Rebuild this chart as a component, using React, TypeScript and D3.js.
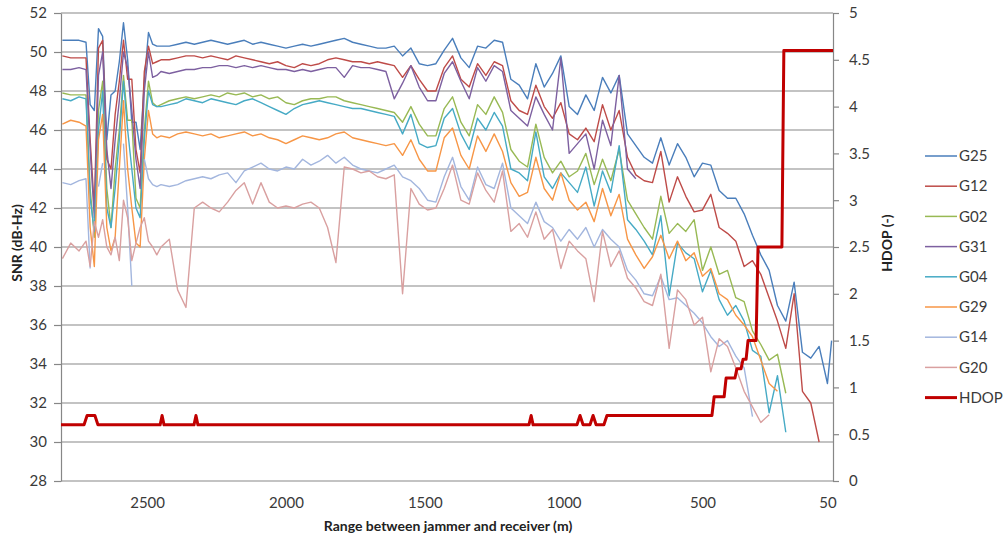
import React, { useEffect, useRef } from 'react';
import * as d3 from 'd3';

// range between jammer and receiver (m), shared by all SNR series
const ranges = [
  2805, 2775, 2745, 2720, 2705, 2690, 2675, 2660, 2645, 2630, 2615, 2600, 2585, 2570, 2555, 2540, 2525, 2510, 2495, 2480, 2465, 2450,
  2420, 2390, 2360, 2330, 2300, 2270, 2240, 2210, 2180, 2150, 2120, 2090, 2060, 2030, 2000, 1970, 1940, 1910, 1880, 1850,
  1820, 1790, 1760, 1730, 1700, 1670, 1640, 1610, 1580, 1550, 1520, 1490, 1460, 1430, 1400, 1370, 1340, 1310, 1280, 1250,
  1220, 1190, 1160, 1130, 1100, 1070, 1040, 1010, 980, 950, 920, 890, 860, 830, 800, 770, 740, 710, 680, 650,
  620, 590, 560, 530, 500, 470, 440, 410, 380, 350, 320, 290, 260, 230, 200, 170, 140, 110, 80, 50, 35
];

const g25 = [
  50.6, 50.6, 50.6, 50.5, 47.3, 47.0, 51.2, 50.8, 45.5, 47.8, 48.0, 49.5, 51.5, 49.6, 46.4, 46.4, 45.0, 48.5, 51.0, 50.4, 50.3, 50.3,
  50.3, 50.4, 50.5, 50.4, 50.5, 50.6, 50.5, 50.4, 50.5, 50.6, 50.4, 50.5, 50.4, 50.3, 50.2, 50.3, 50.4, 50.3, 50.4, 50.5,
  50.6, 50.7, 50.5, 50.4, 50.3, 50.2, 50.2, 50.3, 49.8, 50.2, 49.4, 49.3, 49.4, 50.1, 50.7, 49.7, 49.2, 50.3, 50.2, 50.6,
  50.5, 48.6, 48.3, 47.6, 49.4, 48.2, 48.9, 49.8, 47.2, 46.8, 47.8, 47.0, 48.7, 47.9, 48.8, 45.8, 45.2, 44.6, 44.3, 45.6,
  44.2, 45.3, 44.6, 43.6, 44.3, 44.2, 42.9, 42.5, 42.5, 41.7, 40.6, 39.6, 38.8, 37.0, 36.2, 38.2, 34.6, 34.3, 34.9, 33.0, 35.2
];

const g12 = [
  49.8, 49.7, 49.7, 49.7, 45.5, 42.0, 50.2, 50.6, 44.5, 44.0, 46.8, 48.5, 50.6, 48.6, 48.6, 45.0, 43.8, 49.0, 50.3, 49.4, 49.5, 49.6,
  49.6, 49.7, 49.8, 49.8, 49.7, 49.8, 49.7, 49.6, 49.8, 49.7, 49.6, 49.5, 49.4, 49.5, 49.3, 49.2, 49.4, 49.3, 49.4, 49.6,
  49.7, 49.6, 49.5, 49.5, 49.4, 49.5, 49.4, 49.3, 48.7, 49.3, 48.6, 48.0, 48.0, 49.2, 49.8, 48.6, 48.2, 49.4, 48.8, 49.5,
  49.3, 47.5, 47.0, 46.8, 48.3, 47.2, 46.6, 47.4, 45.8, 45.5, 46.1, 45.4, 47.3, 46.0, 47.0, 44.6, 43.7, 43.4, 43.3, 44.9,
  42.3, 43.6, 42.6, 41.8, 41.9, 42.7, 41.0, 40.7, 40.3, 39.0, 39.3, 38.6, 37.4, 36.2, 34.8, 37.6, 32.6, 32.0, 30.0, null, null
];

const g02 = [
  47.9, 47.8, 47.8, 47.8, 43.0, 40.5, 47.0, 48.5, 43.0, 41.0, 44.0, 46.0, 48.8, 46.5, 46.5, 42.5, 42.0, 46.0, 48.5, 47.4, 47.2, 47.3,
  47.5, 47.6, 47.7, 47.6, 47.7, 47.8, 47.7, 47.9, 47.8, 47.9, 47.7, 47.8, 47.6, 47.7, 47.4, 47.3, 47.5, 47.6, 47.6, 47.7,
  47.7, 47.5, 47.4, 47.3, 47.2, 47.1, 47.0, 46.9, 46.4, 47.2, 46.3, 45.7, 45.7, 47.1, 47.7, 46.4, 45.7, 47.3, 46.8, 47.7,
  46.9, 45.0, 44.4, 44.1, 46.3, 44.6, 43.8, 44.4, 43.6, 43.9, 44.8, 43.2, 44.5, 43.4, 45.0, 42.4, 41.7, 41.0, 40.4, 42.6,
  40.7, 41.2, 40.8, 41.4, 38.8, 40.0, 38.6, 38.8, 37.4, 37.2, 35.7, 35.0, 34.2, 34.5, 32.5, null, null, null, null, null, null
];

const g31 = [
  49.1, 49.1, 49.2, 49.1, 45.0, 41.5, 48.8, 50.0, 45.0, 43.0, 45.5, 47.5, 50.0, 49.2, 47.0, 44.5, 43.0, 48.0, 50.0, 48.7, 48.8, 49.0,
  48.9, 49.0, 49.1, 49.1, 49.2, 49.2, 49.3, 49.3, 49.2, 49.3, 49.2, 49.3, 49.2, 49.1, 49.1, 49.0, 49.1, 49.0, 49.1, 49.2,
  49.2, 48.7, 49.3, 49.2, 49.2, 49.1, 49.0, 47.6, 48.4, 49.3, 48.2, 47.5, 47.5, 48.9, 49.5, 48.5, 47.6, 49.2, 48.5, 49.3,
  49.0, 47.0, 46.6, 46.2, 47.7, 46.8, 46.0, 49.7, 44.8, 45.3, 45.8, 44.0, 46.5, 45.2, 48.8, 44.0, 43.5, null, null, null,
  null, null, null, null, null, null, null, null, null, null, null, null, null, null, null, null, null, null, null, null, null
];

const g04 = [
  47.6, 47.5, 47.7, 47.6, 42.5, 40.8, 46.0, 48.0, 42.0, 41.0, 43.0, 45.5, 48.5, 46.0, 44.0, 42.0, 41.5, 45.5, 48.0, 47.3, 47.2, 47.2,
  47.3, 47.4, 47.6, 47.5, 47.4, 47.6, 47.5, 47.4, 47.3, 47.5, 47.6, 47.4, 47.2, 47.0, 46.8, 47.1, 47.3, 47.4, 47.5, 47.4,
  47.3, 47.2, 47.1, 47.1, 47.0, 46.9, 46.8, 46.7, 45.8, 46.8, 45.3, 45.1, 45.2, 46.6, 47.1, 45.8, 45.0, 46.6, 46.0, 46.9,
  46.2, 44.0, 43.8, 43.4, 45.9, 43.6, 43.0, 43.8, 43.3, 42.8, 44.1, 42.1, 43.9, 42.8, 45.2, 41.4, 40.9, 40.3, 39.6, 41.6,
  37.5, 40.2, 39.7, 39.4, 37.7, 38.8, 37.3, 36.5, 37.0, 36.2, 34.7, 34.4, 31.5, 33.4, 30.5, null, null, null, null, null, null
];

const g29 = [
  46.3, 46.5, 46.4, 46.2, 41.0, 39.0, 45.5, 46.8, 41.0, 39.8, 40.5, 44.0, 47.5, 44.0, 42.0, 40.2, 40.0, 44.5, 47.0, 45.8, 45.6, 45.7,
  45.6, 45.8, 45.9, 45.8, 45.7, 45.8, 45.6, 45.7, 45.8, 45.9, 45.7, 45.8, 45.6, 45.5, 45.3, 45.5, 45.7, 45.6, 45.5, 45.6,
  45.8, 45.9, 45.6, 45.5, 45.4, 45.3, 45.2, 45.3, 44.7, 45.5, 44.5, 43.9, 43.9, 45.6, 46.1, 44.7, 44.0, 45.7, 44.9, 45.8,
  44.9, 43.3, 42.6, 42.8, 44.6, 43.0, 42.4, 43.8, 42.4, 41.9, 42.3, 41.3, 43.0, 41.6, 42.7, 40.4, 39.6, 38.9, 39.5, 40.6,
  39.4, 40.3, 39.3, 39.7, 38.5, 38.9, 37.6, 37.3, 36.5, 36.0, 35.4, 34.2, 33.0, 32.6, null, null, null, null, null, null, null
];

const g14 = [
  43.3, 43.2, 43.4, 43.5, 38.9, null, 43.1, 44.3, null, null, null, null, 45.3, 42.0, 38.0, null, null, 44.5, 43.5, 43.2, 43.1, 43.2,
  43.1, 43.2, 43.4, 43.5, 43.6, 43.5, 43.7, 43.8, 43.3, 43.9, 44.1, 44.3, 44.0, 43.9, 44.1, 44.0, 44.5, 44.2, 44.4, 44.7,
  44.3, 44.6, 44.2, 44.0, 43.9, 43.8, 44.0, 44.2, 43.6, 43.4, 43.0, 42.4, 42.3, 43.6, 44.6, 43.1, 42.4, 44.1, 43.2, 43.0,
  44.3, 42.0, 41.6, 41.2, 42.3, 41.3, 41.0, 40.3, 40.9, 40.4, 41.0, 40.0, 40.9, 40.4, 40.0, 38.8, 38.3, 37.6, 37.5, 38.5,
  37.3, 37.4, 37.0, 36.6, 36.1, 35.4, 34.9, 35.2, 34.4, 33.8, 31.3, null, null, null, null, null, null, null, null, null, null
];

const g20 = [
  39.4, 40.2, 39.8, 40.3, 39.0, 41.3, 40.5, 41.4, 40.0, 39.6, 40.5, 39.3, 42.4, 41.5, 39.3, 40.2, 41.0, 41.5, 40.3, 40.0, 39.6, 40.0,
  40.4, 37.8, 36.9, 42.0, 42.3, 42.0, 41.8, 42.3, 42.9, 43.3, 42.2, 43.3, 42.3, 42.0, 42.1, 42.0, 42.2, 42.3, 42.0, 41.0,
  39.2, 44.1, 44.0, 43.8, 43.9, 43.6, 43.5, 43.7, 37.6, 43.0, 42.2, 41.9, 42.0, 43.0, 44.2, 42.4, 42.2, 43.8, 42.9, 42.3,
  43.9, 40.8, 41.2, 40.5, 41.8, 40.4, 40.9, 38.9, 40.3, 39.8, 39.4, 37.2, 40.8, 39.0, 39.8, 38.4, 37.9, 37.2, 37.0, 38.6,
  34.8, 37.8, 37.3, 36.0, 36.4, 33.6, 35.3, 34.9, 33.8, 32.6, 31.8, 31.0, 31.4, null, null, null, null, null, null, null, null
];

// HDOP step line (secondary axis)
const hdopRange = [2810, 2727, 2716, 2688, 2677, 2453, 2446, 2439, 2331, 2324, 2317, 1125, 1117, 1110, 952, 941, 930, 905, 894, 883,
  855, 844, 466, 458, 422, 415, 383, 376, 361, 354, 343, 336, 307, 300, 214, 207, 30];
const hdopValue = [0.6, 0.6, 0.7, 0.7, 0.6, 0.6, 0.7, 0.6, 0.6, 0.7, 0.6, 0.6, 0.7, 0.6, 0.6, 0.7, 0.6, 0.6, 0.7, 0.6,
  0.6, 0.7, 0.7, 0.9, 0.9, 1.1, 1.1, 1.2, 1.2, 1.3, 1.3, 1.5, 1.5, 2.5, 2.5, 4.6, 4.6];

const seriesNames = ['G25', 'G12', 'G02', 'G31', 'G04', 'G29', 'G14', 'G20'];
const seriesValues = [g25, g12, g02, g31, g04, g29, g14, g20];
const seriesColors = ['#4a7ebb', '#be4b48', '#98b954', '#7d60a0', '#46aac5', '#f79646', '#a3b6de', '#d9a0a0'];

const snrTicks = [28, 30, 32, 34, 36, 38, 40, 42, 44, 46, 48, 50, 52];
const hdopTicks = [0, 0.5, 1, 1.5, 2, 2.5, 3, 3.5, 4, 4.5, 5];
const rangeTicks = [2500, 2000, 1500, 1000, 500, 50];

const FONT = 'Lato, "Open Sans", sans-serif';

export default function App() {
  const ref = useRef<SVGSVGElement>(null);

  useEffect(() => {
    const svg = d3.select(ref.current);
    svg.selectAll('*').remove();

    let plot = { left: 61, right: 833, top: 13, bottom: 481 };

    let xScale = d3.scaleLinear().domain([2810, 30]).range([plot.left, plot.right]);
    let yScale = d3.scaleLinear().domain([28, 52]).range([plot.bottom, plot.top]);
    let hdopScale = d3.scaleLinear().domain([0, 5]).range([plot.bottom, plot.top]);

    // gridlines
    svg.append('g')
      .selectAll('line')
      .data(snrTicks)
      .join('line')
      .attr('x1', plot.left)
      .attr('x2', plot.right)
      .attr('y1', d => yScale(d))
      .attr('y2', d => yScale(d))
      .attr('stroke', '#878787')
      .attr('stroke-width', 1.2);

    // axes
    let leftAxis = svg.append('g')
      .attr('transform', 'translate(' + plot.left + ',0)')
      .call(d3.axisLeft(yScale).tickValues(snrTicks).tickSize(7).tickSizeOuter(0).tickPadding(7));
    let rightAxis = svg.append('g')
      .attr('transform', 'translate(' + plot.right + ',0)')
      .call(d3.axisRight(hdopScale).tickValues(hdopTicks).tickSize(6).tickSizeOuter(0).tickPadding(10)
        .tickFormat(d => String(d)));
    let bottomAxis = svg.append('g')
      .attr('transform', 'translate(0,' + plot.bottom + ')')
      .call(d3.axisBottom(xScale).tickValues(rangeTicks).tickSize(0).tickPadding(16)
        .tickFormat(d => String(d)));
    bottomAxis.select('.domain').remove();

    [leftAxis, rightAxis, bottomAxis].forEach(a => {
      a.select('.domain').attr('stroke', '#878787').attr('stroke-width', 1.2);
      a.selectAll('.tick line').attr('stroke', '#878787').attr('stroke-width', 1.2);
      a.selectAll('.tick text')
        .attr('fill', '#3a3a3a')
        .style('font-family', FONT)
        .style('font-size', '15px');
    });

    // SNR lines
    let line = d3.line<number | null>()
      .defined(d => d != null)
      .x((d, i) => xScale(ranges[i]))
      .y(d => yScale(d as number));

    seriesValues.forEach((vals, s) => {
      svg.append('path')
        .datum(vals)
        .attr('fill', 'none')
        .attr('stroke', seriesColors[s])
        .attr('stroke-width', 1.4)
        .attr('stroke-linejoin', 'round')
        .attr('d', line);
    });

    // HDOP line
    let hdopLine = d3.line<number>()
      .x((d, i) => xScale(hdopRange[i]))
      .y(d => hdopScale(d));
    svg.append('path')
      .datum(hdopValue)
      .attr('fill', 'none')
      .attr('stroke', '#c00000')
      .attr('stroke-width', 3)
      .attr('stroke-linejoin', 'round')
      .attr('d', hdopLine);

    // axis titles
    svg.append('text')
      .attr('transform', 'translate(22,243) rotate(-90)')
      .attr('text-anchor', 'middle')
      .style('font-family', FONT)
      .style('font-weight', 'bold')
      .style('font-size', '14px')
      .attr('fill', '#222')
      .text('SNR (dB-Hz)');
    svg.append('text')
      .attr('transform', 'translate(892,243) rotate(-90)')
      .attr('text-anchor', 'middle')
      .style('font-family', FONT)
      .style('font-weight', 'bold')
      .style('font-size', '14px')
      .attr('fill', '#222')
      .text('HDOP (-)');
    svg.append('text')
      .attr('x', 448)
      .attr('y', 531)
      .attr('text-anchor', 'middle')
      .style('font-family', FONT)
      .style('font-weight', 'bold')
      .style('font-size', '14px')
      .attr('fill', '#222')
      .text('Range between jammer and receiver (m)');

    // legend
    let legendNames = seriesNames.concat(['HDOP']);
    let legendColors = seriesColors.concat(['#c00000']);
    let legend = svg.append('g');
    legendNames.forEach((name, i) => {
      let ly = 156 + i * 30.2;
      legend.append('line')
        .attr('x1', 925).attr('x2', 957)
        .attr('y1', ly).attr('y2', ly)
        .attr('stroke', legendColors[i])
        .attr('stroke-width', name === 'HDOP' ? 3 : 1.5);
      legend.append('text')
        .attr('x', 959)
        .attr('y', ly)
        .attr('dy', '0.35em')
        .style('font-family', FONT)
        .style('font-size', '15px')
        .attr('fill', '#3a3a3a')
        .text(name);
    });
  }, []);

  return (
    <svg ref={ref} width={1006} height={538}
      style={{ position: 'absolute', left: 0, top: 0, background: '#fff' }} />
  );
}
